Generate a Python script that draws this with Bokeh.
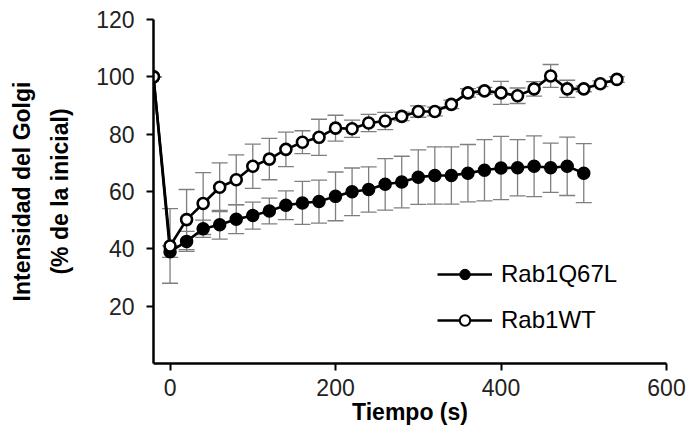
from bokeh.plotting import figure
from bokeh.models import (ColumnDataSource, Whisker, TeeHead, FixedTicker, Legend,
                          LegendItem, Range1d)
from bokeh.embed import file_html
from bokeh.resources import INLINE

# ---- data ----
time_wt = [-20, 0, 20, 40, 60, 80, 100, 120, 140, 160, 180, 200, 220, 240, 260, 280,
           300, 320, 340, 360, 380, 400, 420, 440, 460, 480, 500, 520, 540]
wt_mean = [100, 41.0, 50.2, 55.8, 61.5, 64.1, 68.8, 71.3, 74.7, 77.2, 78.9, 82.1, 81.9,
           83.9, 84.6, 86.2, 87.9, 87.9, 90.4, 94.4, 95.1, 94.4, 93.4, 95.8, 100.3,
           95.8, 95.8, 97.6, 99.1]
wt_err = [0, 13.0, 10.5, 10.8, 8.5, 8.7, 7.7, 7.2, 6.0, 4.0, 6.3, 4.5, 3.0, 3.0, 3.0,
          1.5, 2.0, 1.5, 1.5, 1.5, 1.2, 4.0, 2.7, 2.5, 4.0, 3.0, 1.0, 1.0, 1.0]

time_q = [-20, 0, 20, 40, 60, 80, 100, 120, 140, 160, 180, 200, 220, 240, 260, 280,
          300, 320, 340, 360, 380, 400, 420, 440, 460, 480, 500]
q_mean = [100, 39.0, 42.6, 47.0, 48.4, 50.3, 51.6, 53.2, 55.2, 56.0, 56.5, 58.3, 59.9,
          60.7, 62.5, 63.3, 65.0, 65.6, 65.6, 66.4, 67.4, 68.2, 68.3, 68.8, 68.3, 68.8, 66.4]
q_err = [0, 2.0, 3.5, 3.0, 5.0, 5.0, 4.7, 4.5, 5.0, 7.5, 7.5, 8.5, 8.3, 7.9, 9.0, 9.0,
         9.5, 10.0, 10.0, 10.0, 10.7, 11.0, 9.8, 10.6, 8.6, 10.2, 10.3]

x_ticks = [0, 200, 400, 600]
y_ticks = [20, 40, 60, 80, 100, 120]

FONT = "Liberation Sans"
NAN = float("nan")

src_wt = ColumnDataSource(dict(t=time_wt, m=wt_mean,
                               lo=[m - e for m, e in zip(wt_mean, wt_err)],
                               hi=[m + e for m, e in zip(wt_mean, wt_err)]))
src_q = ColumnDataSource(dict(t=time_q, m=q_mean,
                              lo=[m - e for m, e in zip(q_mean, q_err)],
                              hi=[m + e for m, e in zip(q_mean, q_err)]))

p = figure(frame_width=513, frame_height=344, output_backend="svg",
           toolbar_location=None,
           x_range=Range1d(-20, 600), y_range=Range1d(0, 120),
           min_border_left=153, min_border_right=20, min_border_top=19,
           min_border_bottom=68)
p.outline_line_color = None
p.xgrid.visible = False
p.ygrid.visible = False

ERR = "#7f7f7f"
for src in (src_q, src_wt):
    w = Whisker(source=src, base="t", lower="lo", upper="hi",
                line_color=ERR, line_width=1.3,
                upper_head=TeeHead(size=16, line_color=ERR, line_width=1.3),
                lower_head=TeeHead(size=16, line_color=ERR, line_width=1.3))
    p.add_layout(w)

p.line("t", "m", source=src_q, line_color="black", line_width=2.6)
p.scatter("t", "m", source=src_q, size=12, fill_color="black", line_color="black",
          line_width=1.5)
p.line("t", "m", source=src_wt, line_color="black", line_width=2.6)
p.scatter("t", "m", source=src_wt, size=11, fill_color="white", line_color="black",
          line_width=2.6)

# legend proxies (smaller markers as in reference), no visible data
lq_l = p.line(x=[NAN], y=[NAN], line_color="black", line_width=2.6)
lq_m = p.scatter(x=[NAN], y=[NAN], size=9, fill_color="black", line_color="black")
lw_l = p.line(x=[NAN], y=[NAN], line_color="black", line_width=2.6)
lw_m = p.scatter(x=[NAN], y=[NAN], size=8, fill_color="white", line_color="black",
                 line_width=2)

legend = Legend(items=[LegendItem(label="Rab1Q67L", renderers=[lq_l, lq_m]),
                       LegendItem(label="Rab1WT", renderers=[lw_l, lw_m])],
                location=(284, 29), padding=0, margin=0, border_line_color=None,
                background_fill_alpha=0, glyph_width=55, glyph_height=26,
                label_height=26, spacing=18, label_standoff=9,
                label_text_font=FONT, label_text_font_size="24px",
                label_text_color="black")
p.add_layout(legend, "center")

for ax in (p.xaxis[0], p.yaxis[0]):
    ax.axis_line_color = "black"
    ax.axis_line_width = 2.5
    ax.major_tick_line_color = "black"
    ax.major_tick_line_width = 2
    ax.major_tick_in = 0
    ax.major_tick_out = 7
    ax.minor_tick_line_color = None
    ax.major_label_text_font = FONT
    ax.major_label_text_font_size = "23px"
    ax.major_label_text_color = "#222222"
    ax.axis_label_text_font = FONT
    ax.axis_label_text_font_size = "23px"
    ax.axis_label_text_font_style = "bold"
    ax.axis_label_text_color = "black"

p.xaxis.ticker = FixedTicker(ticks=x_ticks)
p.yaxis.ticker = FixedTicker(ticks=y_ticks)
p.xaxis.axis_label = "Tiempo (s)"
p.yaxis.axis_label = "Intensidad del Golgi\n(% de la inicial)"
p.yaxis.axis_label_text_line_height = 1.45
p.xaxis.major_label_standoff = 8
p.yaxis.major_label_standoff = 12
p.xaxis.axis_label_standoff = 0
p.yaxis.axis_label_standoff = 20

open("out.html", "w").write(file_html(p, INLINE))
